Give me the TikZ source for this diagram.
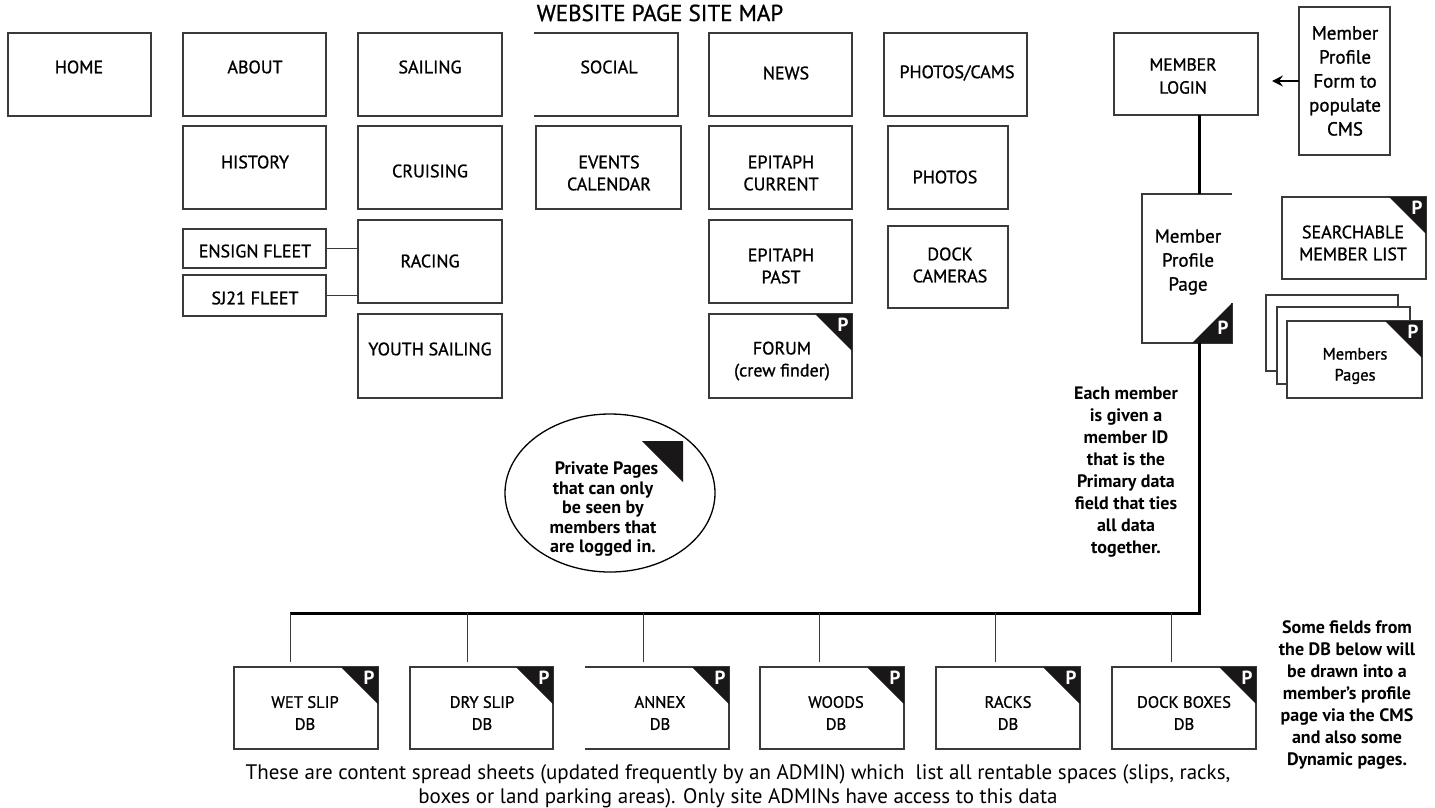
\documentclass[tikz,border=0pt]{standalone}
\usepackage{fontspec}
\setmainfont{PT Sans}
\newfontfamily\semi[FakeBold=1.0]{PT Sans}
\usetikzlibrary{arrows.meta,shapes.geometric}
\definecolor{edge}{HTML}{3A3A3A}
\definecolor{tri}{HTML}{1A1718}
\newcommand\fs[2]{\fontsize{#1}{#2}\selectfont}
\newcommand\mkbox[6][]{\node[pbox,#1,minimum width={(#4-#2)*1pt},minimum height={(#5-#3)*1pt}] (#6) at ({(#2+#4)/2},{(#3+#5)/2}) {};}
\newcommand\ptri[1]{\fill[tri] (#1.north east) -- ++(-37,0) -- ++(37,37) -- cycle;
  \node[pmark] (#1-p) at ([xshift=-9pt,yshift=-11pt]#1.north east) {P};}
\begin{document}
\begin{tikzpicture}[x=1pt,y=-1pt,
  pbox/.style={draw=edge,line width=1.1pt,inner sep=0pt,outer sep=0pt},
  lbl/.style={font=\semi\fs{18}{22},align=center,inner sep=0pt},
  bigl/.style={font=\semi\fs{19}{24},align=center,inner sep=0pt},
  dbl/.style={font=\semi\fs{16.5}{22},align=center,inner sep=0pt},
  pmark/.style={font=\fs{19}{19}\bfseries,text=white,inner sep=0pt},
  note/.style={font=\fs{18}{22}\bfseries,align=center,inner sep=0pt},
  bus/.style={line width=3pt,black},
  link/.style={draw=edge,line width=1.1pt}]
\useasboundingbox (0,0) rectangle (1435,807);
\fill[white] (0,0) rectangle (1435,807);
\node[font=\semi\fs{23}{26},anchor=base] (title) at (660,21) {WEBSITE PAGE SITE MAP};
% top row
\mkbox{8}{33}{151}{116}{home}
\mkbox{183}{33}{326}{116}{about}
\mkbox{358}{33}{502}{116}{sailing}
\mkbox[draw=none]{534}{33}{678}{116}{social}
\draw[pbox] (social.north west) -- (social.north east) -- (social.south east) -- (social.south west);
\mkbox{709}{33}{852}{116}{news}
\mkbox{884}{33}{1027}{116}{photocams}
\node[lbl] (home-t) at (79,67) {HOME};
\node[lbl] (about-t) at (255,67) {ABOUT};
\node[lbl] (sailing-t) at (430,67) {SAILING};
\node[lbl] (social-t) at (609,67) {SOCIAL};
\node[lbl] (news-t) at (786,73) {NEWS};
\node[lbl] (photocams-t) at (957,73) {PHOTOS/CAMS};
% second row
\mkbox{183}{126}{326}{209}{history}
\mkbox{358}{126}{502}{209}{cruising}
\mkbox{536}{126}{681}{209}{events}
\mkbox{709}{126}{852}{209}{epcur}
\mkbox{888}{126}{1008}{209}{photos}
\node[lbl] (history-t) at (255,162) {HISTORY};
\node[lbl] (cruising-t) at (430,171) {CRUISING};
\node[lbl] (events-t) at (609,173) {EVENTS\\CALENDAR};
\node[lbl] (epcur-t) at (781,173) {EPITAPH\\CURRENT};
\node[lbl] (photos-t) at (945,177) {PHOTOS};
% third row
\mkbox{183}{229}{326}{268}{ensign}
\mkbox{183}{275}{326}{316}{sj21}
\mkbox{358}{220}{502}{303}{racing}
\mkbox{709}{220}{852}{303}{eppast}
\mkbox{888}{226}{1008}{308}{dockcam}
\node[lbl] (ensign-t) at (255,251) {ENSIGN FLEET};
\node[lbl] (sj21-t) at (255,298) {SJ21 FLEET};
\node[lbl] (racing-t) at (430,261) {RACING};
\node[lbl] (eppast-t) at (781,266) {EPITAPH\\PAST};
\node[lbl] (dockcam-t) at (950,265) {DOCK\\CAMERAS};
\draw[link] (ensign.east) -- (ensign.east -| racing.west);
\draw[link] (sj21.east) -- (sj21.east -| racing.west);
% fourth row
\mkbox{358}{314}{502}{398}{youth}
\mkbox{709}{314}{852}{398}{forum}
\node[lbl] (youth-t) at (430,349) {YOUTH SAILING};
\node[lbl] (forum-t) at (782,361) {FORUM\\(crew finder)};
\ptri{forum}
% member area
\mkbox{1114}{33}{1258}{115}{login}
\node[lbl,font=\semi\fs{17.5}{23}] (login-t) at (1183,76) {MEMBER\\LOGIN};
\mkbox{1299}{7}{1390}{155}{form}
\node[bigl] (form-t) at (1345,81) {Member\\Profile\\Form to\\populate\\CMS};
\coordinate (atip) at (1272,81);
\draw[link,black,line width=1.2pt,-{Stealth[length=11pt,width=11pt,inset=4pt]}] (form.west) -- (atip);
\mkbox[draw=none]{1142}{194}{1232}{343}{profile}
\draw[pbox] (profile.north east) -- (profile.north west) -- (profile.south west) -- (profile.south east) -- ++(0,-40);
\fill[tri] (profile.south east) -- ++(-40,0) -- ++(40,-40) -- cycle;
\node[pmark] (profile-p) at ([xshift=-9pt,yshift=15pt]profile.south east) {P};
\node[bigl] (profile-t) at (1188,262) {Member\\Profile\\Page};
\mkbox{1282}{197}{1426}{279}{search}
\node[lbl,font=\semi\fs{18}{22}] (search-t) at (1353,243) {SEARCHABLE\\MEMBER LIST};
\ptri{search}
\mkbox[fill=white]{1266}{295}{1398}{371}{mp3}
\mkbox[fill=white]{1277}{307}{1410}{384}{mp2}
\mkbox[fill=white]{1287}{321}{1422}{398}{mp1}
\ptri{mp1}
\node[lbl,font=\semi\fs{16.5}{21}] (mp-t) at (1355,366) {Members\\Pages};
% spine and bus
\coordinate (corner) at (1199,613);
\coordinate (busL) at (290,613);
\draw[bus] (login.south -| corner) -- (profile.north -| corner);
\draw[bus] (profile.south -| corner) -- (corner) -- (busL);
% private pages ellipse
\node[draw=black,line width=1.3pt,ellipse,minimum width=210pt,minimum height=158pt,inner sep=0pt] (priv) at (610,493) {};
\fill[tri] (642,441) -- (683,441) -- (683,482) -- cycle;
\node[note,font=\fs{18}{19.5}\bfseries] (priv-t) at (603,509) {\hspace{0.4em}Private Pages\\that can only\\be seen by\\members that\\are logged in.};
% notes
\node[note] (mid-t) at (1126,472) {Each member\\is given a\\member ID\\that is the\\Primary data\\field that ties\\all data\\together.};
\node[note] (dbnote-t) at (1347,695) {Some fields from\\the DB below will\\be drawn into a\\member’s profile\\page via the CMS\\and also some\\Dynamic pages.};
% DB boxes
\mkbox{234}{667}{378}{749}{wet}
\mkbox{410}{667}{553}{749}{dry}
\mkbox[draw=none]{585}{667}{729}{749}{annex}
\draw[pbox] (annex.north west) -- (annex.north east) -- (annex.south east) -- (annex.south west);
\mkbox{760}{667}{904}{749}{woods}
\mkbox{936}{667}{1080}{749}{racks}
\mkbox{1112}{667}{1256}{749}{dock}
\foreach \n in {wet,dry,annex,woods,racks,dock}{\ptri{\n}}
\node[dbl] (wet-t) at (305,713) {WET SLIP\\DB};
\node[dbl] (dry-t) at (482,713) {DRY SLIP\\DB};
\node[dbl] (annex-t) at (660,713) {ANNEX\\DB};
\node[dbl] (woods-t) at (836,713) {WOODS\\DB};
\node[dbl] (racks-t) at (1008,713) {RACKS\\DB};
\node[dbl] (dock-t) at (1184,713) {DOCK BOXES\\DB};
\foreach \x/\n [count=\i] in {290/wet,467/dry,643/annex,819/woods,995/racks,1171/dock}{
  \coordinate (d\i) at (\x,613);
  \draw[link,line width=1pt,shorten >=5pt] (d\i) -- (d\i |- \n.north);}
% bottom text
\node[font=\fs{21}{25},anchor=base,inner sep=0pt] (bot1) at (738,779) {These are content spread sheets (updated frequently by an ADMIN) which\ \ list all rentable spaces (slips, racks,};
\node[font=\fs{21}{25},anchor=base,inner sep=0pt] (bot2) at (738,803) {boxes or land parking areas). Only site ADMINs have access to this data};
\end{tikzpicture}
\end{document}
